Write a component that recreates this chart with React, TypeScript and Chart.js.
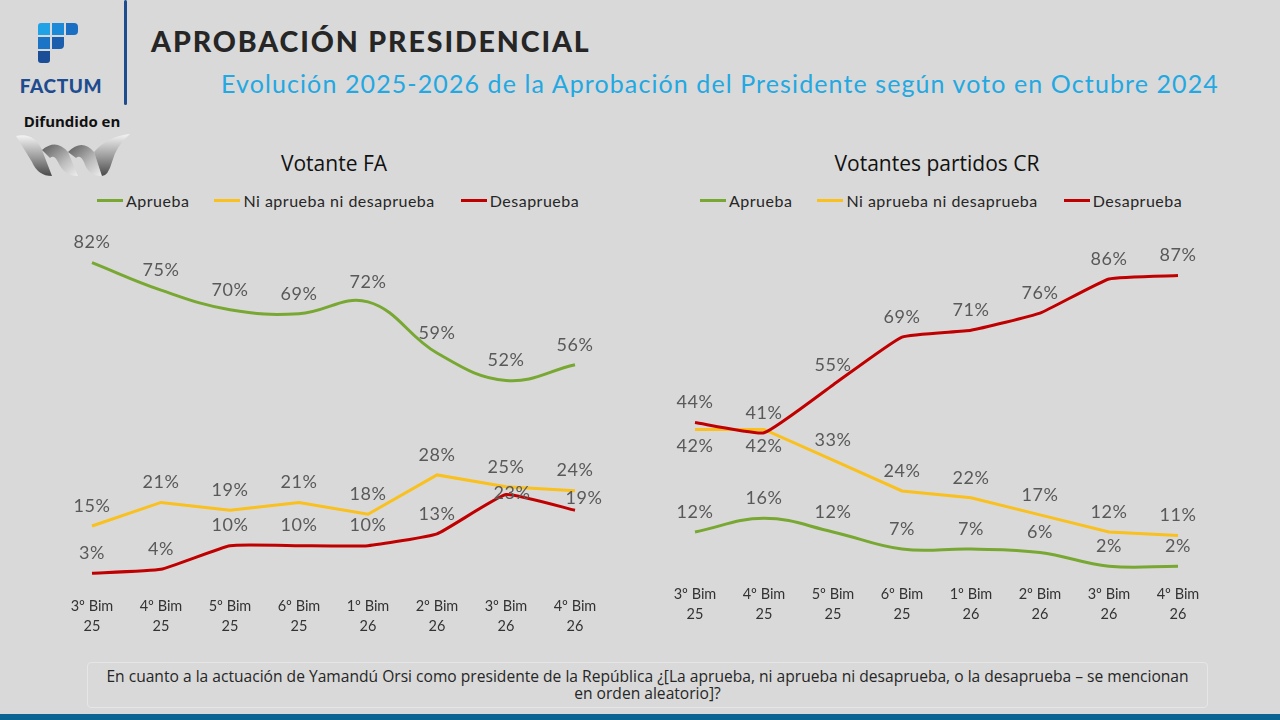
import React, { useEffect, useRef } from "react";
import { Chart, registerables } from "chart.js";

Chart.register(...registerables);

// periodos (bimestres)
const PERIODS: string[][] = [
  ["3º Bim", "25"],
  ["4º Bim", "25"],
  ["5º Bim", "25"],
  ["6º Bim", "25"],
  ["1º Bim", "26"],
  ["2º Bim", "26"],
  ["3º Bim", "26"],
  ["4º Bim", "26"],
];

const SERIES_NAMES = ["Aprueba", "Ni aprueba ni desaprueba", "Desaprueba"];

// Votante FA
const FA_APRUEBA = [82, 75, 70, 69, 72, 59, 52, 56];
const FA_NI = [15, 21, 19, 21, 18, 28, 25, 24];
const FA_DESAPRUEBA = [3, 4, 10, 10, 10, 13, 23, 19];

// Votantes partidos CR
const CR_APRUEBA = [12, 16, 12, 7, 7, 6, 2, 2];
const CR_NI = [42, 42, 33, 24, 22, 17, 12, 11];
const CR_DESAPRUEBA = [44, 41, 55, 69, 71, 76, 86, 87];

// dónde va cada etiqueta: a = arriba, b = abajo, c = sobre el punto, r = a la derecha
const FA_POS_APRUEBA = ["a", "a", "a", "a", "a", "a", "a", "a"];
const FA_POS_NI = ["a", "a", "a", "a", "a", "a", "a", "a"];
const FA_POS_DES = ["a", "a", "a", "a", "a", "a", "c", "r"];
const CR_POS_APRUEBA = ["a", "a", "a", "a", "a", "a", "a", "a"];
const CR_POS_NI = ["b", "b", "a", "a", "a", "a", "a", "a"];
const CR_POS_DES = ["a", "a", "a", "a", "a", "a", "a", "a"];

const GREEN = "#78a832";
const YELLOW = "#f9c01e";
const RED = "#c00000";
const COLORS = [GREEN, YELLOW, RED];

const FONT = "Lato, 'Open Sans', sans-serif";

const labelOffsets: { [k: string]: [number, number] } = {
  a: [0, -20],
  b: [0, 17],
  c: [6, -1],
  r: [9, -12],
};

const valueLabels = {
  id: "valueLabels",
  afterDatasetsDraw(chart: any) {
    const ctx = chart.ctx;
    ctx.save();
    ctx.font = `18px ${FONT}`;
    (ctx as any).letterSpacing = "0.6px";
    ctx.fillStyle = "#595959";
    ctx.textAlign = "center";
    ctx.textBaseline = "middle";
    chart.data.datasets.forEach((ds: any, i: number) => {
      const meta = chart.getDatasetMeta(i);
      meta.data.forEach((pt: any, j: number) => {
        const [dx, dy] = labelOffsets[ds.labelPos[j]];
        ctx.fillText(`${ds.data[j]}%`, pt.x + dx, pt.y + dy);
      });
    });
    ctx.restore();
  },
};

type PanelProps = {
  values: number[][];
  positions: string[][];
  yMax: number;
  padLeft: number;
  padRight: number;
  height: number;
};

const LineChart: React.FC<PanelProps> = ({ values, positions, yMax, padLeft, padRight, height }) => {
  const canvasRef = useRef<HTMLCanvasElement>(null!);

  useEffect(() => {
    const tensions = [0.4, 0, 0.12];
    const chart = new Chart(canvasRef.current, {
      type: "line",
      data: {
        labels: PERIODS,
        datasets: values.map((v, i) => ({
          label: SERIES_NAMES[i],
          data: v,
          labelPos: positions[i],
          borderColor: COLORS[i],
          backgroundColor: COLORS[i],
          borderWidth: 3,
          pointRadius: 0,
          tension: tensions[i],
          order: 2 - i,
        })) as any,
      },
      options: {
        animation: false,
        responsive: true,
        maintainAspectRatio: false,
        layout: { padding: { left: padLeft, right: padRight, top: 0, bottom: 0 } },
        plugins: { legend: { display: false }, tooltip: { enabled: false }, title: { display: false } },
        scales: {
          x: {
            grid: { display: false, drawTicks: false },
            border: { display: false },
            ticks: {
              color: "#333333",
              font: { family: FONT, size: 14.5, lineHeight: 1.33 },
              padding: 12,
              maxRotation: 0,
              autoSkip: false,
            },
            afterFit: (s: any) => {
              s.height = 55;
            },
          },
          y: { display: false, min: 0, max: yMax },
        },
      },
      plugins: [valueLabels],
    });
    return () => chart.destroy();
  }, []);

  return (
    <div style={{ position: "relative", width: 600, height }}>
      <canvas ref={canvasRef} />
    </div>
  );
};

const Legend: React.FC<{ left: number; gaps: number[] }> = ({ left, gaps }) => (
  <div
    style={{
      position: "absolute",
      left,
      top: 191,
      display: "flex",
      alignItems: "center",
      fontFamily: FONT,
      fontSize: 16,
      letterSpacing: 0.5,
      color: "#262626",
      whiteSpace: "nowrap",
    }}
  >
    {SERIES_NAMES.map((n, i) => (
      <div key={n} style={{ display: "flex", alignItems: "center", marginRight: gaps[i] }}>
        <span style={{ display: "inline-block", width: 26, height: 3, background: COLORS[i], marginRight: 3 }} />
        <span>{n}</span>
      </div>
    ))}
  </div>
);

const FactumLogo: React.FC = () => {
  const sq = (x: number, y: number, c: string, r: string) => (
    <div style={{ position: "absolute", left: x, top: y, width: 12, height: 12, background: c, borderRadius: r }} />
  );
  return (
    <>
      {sq(38, 23, "#1fa3e6", "3px 0 0 0")}
      {sq(52, 23, "#1b8ad8", "0")}
      {sq(66, 23, "#1b6fc2", "0 4px 4px 0")}
      {sq(38, 37, "#1b74c6", "0")}
      {sq(52, 37, "#1b5eae", "0 0 4px 0")}
      {sq(38, 51, "#1a4f98", "0 0 3px 3px")}
      <div
        style={{
          position: "absolute",
          left: 17,
          top: 74,
          width: 88,
          textAlign: "center",
          fontFamily: "Lato, sans-serif",
          fontWeight: 900,
          fontSize: 19,
          color: "#1d4c8f",
          letterSpacing: 0.6,
        }}
      >
        FACTUM
      </div>
    </>
  );
};

const WLogo: React.FC = () => (
  <svg style={{ position: "absolute", left: 16, top: 132 }} width={114} height={46} viewBox="0 0 114 46">
    <defs>
      <linearGradient id="wg" x1="0" y1="0" x2="0" y2="1">
        <stop offset="0" stopColor="#f4f4f4" />
        <stop offset="0.55" stopColor="#9a9a9a" />
        <stop offset="1" stopColor="#4a4a4a" />
      </linearGradient>
      <linearGradient id="wg2" x1="0" y1="0" x2="1" y2="1">
        <stop offset="0" stopColor="#5a5a5a" />
        <stop offset="0.6" stopColor="#bdbdbd" />
        <stop offset="1" stopColor="#eeeeee" />
      </linearGradient>
    </defs>
    <path d="M0 4 Q18 0 26 18 L36 44 Q22 44 16 30 Z" fill="url(#wg)" />
    <path d="M26 18 Q40 6 52 20 L62 44 Q48 44 42 30 Q38 22 34 26 Z" fill="url(#wg2)" />
    <path d="M52 20 Q66 6 78 20 L86 44 Q72 44 68 30 Q64 22 60 26 Z" fill="url(#wg2)" />
    <path d="M78 20 Q92 4 114 2 Q100 14 96 30 Q92 44 86 44 Z" fill="url(#wg)" />
  </svg>
);

const chartTitle: React.CSSProperties = {
  position: "absolute",
  top: 149,
  width: 400,
  textAlign: "center",
  fontFamily: "'Open Sans', sans-serif",
  fontSize: 21,
  color: "#111",
};

export default function App() {
  return (
    <div
      style={{
        position: "fixed",
        left: 0,
        top: 0,
        width: 1280,
        height: 720,
        background: "#d9d9d9",
        overflow: "hidden",
        fontFamily: FONT,
      }}
    >
      <FactumLogo />
      <div style={{ position: "absolute", left: 124, top: 0, width: 3, height: 105, background: "#1d4c8f", borderRadius: 2 }} />
      <div
        style={{
          position: "absolute",
          left: 0,
          top: 111,
          width: 144,
          textAlign: "center",
          fontFamily: "'Open Sans', sans-serif",
          fontWeight: 700,
          fontSize: 15,
          color: "#111",
        }}
      >
        Difundido en
      </div>
      <WLogo />

      <div
        style={{
          position: "absolute",
          left: 151,
          top: 24,
          fontFamily: "Lato, sans-serif",
          fontWeight: 900,
          fontSize: 28.5,
          letterSpacing: 1.9,
          color: "#262626",
          whiteSpace: "nowrap",
        }}
      >
        APROBACIÓN PRESIDENCIAL
      </div>
      <div
        style={{
          position: "absolute",
          left: 205,
          top: 68,
          width: 1030,
          textAlign: "center",
          fontFamily: "Lato, sans-serif",
          fontWeight: 400,
          fontSize: 25,
          letterSpacing: 1.1,
          color: "#22a8e2",
          whiteSpace: "nowrap",
        }}
      >
        Evolución 2025-2026 de la Aprobación del Presidente según voto en Octubre 2024
      </div>

      <div style={{ ...chartTitle, left: 134 }}>Votante FA</div>
      <div style={{ ...chartTitle, left: 737 }}>Votantes partidos CR</div>

      <Legend left={97} gaps={[25, 26, 0]} />
      <Legend left={700} gaps={[25, 26, 0]} />

      <div style={{ position: "absolute", left: 40, top: 215 }}>
        <LineChart
          values={[FA_APRUEBA, FA_NI, FA_DESAPRUEBA]}
          positions={[FA_POS_APRUEBA, FA_POS_NI, FA_POS_DES]}
          yMax={94.1}
          padLeft={52}
          padRight={65}
          height={425}
        />
      </div>
      <div style={{ position: "absolute", left: 650, top: 215 }}>
        <LineChart
          values={[CR_APRUEBA, CR_NI, CR_DESAPRUEBA]}
          positions={[CR_POS_APRUEBA, CR_POS_NI, CR_POS_DES]}
          yMax={104.7}
          padLeft={45}
          padRight={72}
          height={413}
        />
      </div>

      <div
        style={{
          position: "absolute",
          left: 87,
          top: 662,
          width: 1121,
          height: 46,
          boxSizing: "border-box",
          border: "1px solid #e6e6e6",
          borderRadius: 4,
          fontFamily: "'Open Sans', sans-serif",
          fontSize: 15.6,
          lineHeight: "17px",
          color: "#262626",
          textAlign: "center",
          paddingTop: 5,
          whiteSpace: "nowrap",
        }}
      >
        En cuanto a la actuación de Yamandú Orsi como presidente de la República ¿[La aprueba, ni aprueba ni desaprueba, o la desaprueba – se mencionan
        <br />
        en orden aleatorio]?
      </div>
      <div style={{ position: "absolute", left: 0, top: 714, width: 1280, height: 6, background: "#0b6592" }} />
    </div>
  );
}
